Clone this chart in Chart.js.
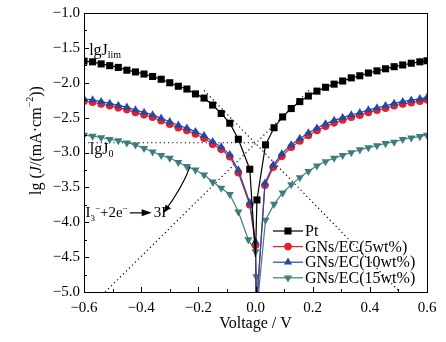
<!DOCTYPE html>
<html>
<head>
<meta charset="utf-8">
<script src="https://cdn.jsdelivr.net/npm/chart.js@4.4.0/dist/chart.umd.min.js"></script>
<style>
  html, body { margin: 0; padding: 0; background: #fff; }
</style>
</head>
<body>
<canvas id="tafel" width="446" height="342"></canvas>
<script>
// ===== data =====
const ptVolt = [-0.60, -0.57, -0.54, -0.51, -0.48, -0.45, -0.42, -0.39, -0.36, -0.33, -0.30, -0.27, -0.24, -0.21, -0.18, -0.15, -0.12, -0.09, -0.06,
  -0.02, 0.00, 0.005,
  0.035, 0.065, 0.095, 0.125, 0.155, 0.185, 0.215, 0.245, 0.275, 0.305, 0.335, 0.365, 0.395, 0.425, 0.455, 0.485, 0.515, 0.545, 0.575, 0.60];
const ptLg = [-1.69, -1.70, -1.73, -1.755, -1.78, -1.82, -1.845, -1.875, -1.91, -1.95, -2.00, -2.05, -2.09, -2.16, -2.22, -2.32, -2.44, -2.58, -2.81,
  -3.24, -4.50, -3.68,
  -2.89, -2.645, -2.49, -2.37, -2.27, -2.19, -2.12, -2.065, -2.02, -1.975, -1.93, -1.90, -1.86, -1.83, -1.80, -1.77, -1.745, -1.72, -1.70, -1.685];

const gnVolt = [-0.60, -0.57, -0.54, -0.51, -0.48, -0.45, -0.42, -0.39, -0.36, -0.33, -0.30, -0.27, -0.24, -0.21, -0.18, -0.15, -0.12, -0.09, -0.06,
  -0.02, 0.00, 0.002,
  0.033, 0.062, 0.092, 0.125, 0.155, 0.185, 0.215, 0.245, 0.275, 0.305, 0.335, 0.365, 0.395, 0.425, 0.455, 0.485, 0.515, 0.545, 0.575, 0.60];
const gn5Lg = [-2.265, -2.28, -2.305, -2.33, -2.36, -2.385, -2.425, -2.46, -2.495, -2.545, -2.595, -2.645, -2.685, -2.735, -2.795, -2.88, -2.955, -3.06, -3.29,
  -3.75, -4.33, -5.3,
  -3.47, -3.21, -3.055, -2.925, -2.835, -2.755, -2.685, -2.625, -2.575, -2.535, -2.495, -2.465, -2.425, -2.395, -2.365, -2.33, -2.305, -2.285, -2.265, -2.245];
const gn10Lg = [-2.23, -2.245, -2.27, -2.295, -2.325, -2.35, -2.39, -2.425, -2.46, -2.51, -2.56, -2.61, -2.65, -2.70, -2.76, -2.845, -2.92, -3.03, -3.25,
  -3.72, -4.28, -5.3,
  -3.44, -3.18, -3.02, -2.89, -2.80, -2.72, -2.65, -2.59, -2.54, -2.50, -2.46, -2.43, -2.39, -2.36, -2.33, -2.295, -2.27, -2.25, -2.23, -2.21];

const gn15Volt = [-0.60, -0.57, -0.54, -0.51, -0.48, -0.45, -0.42, -0.39, -0.36, -0.33, -0.30, -0.27, -0.24, -0.21, -0.18, -0.15, -0.12, -0.09, -0.06,
  -0.025, 0.00, 0.003, 0.004,
  0.035, 0.065, 0.095, 0.125, 0.155, 0.185, 0.215, 0.245, 0.275, 0.305, 0.335, 0.365, 0.395, 0.425, 0.455, 0.485, 0.515, 0.545, 0.575, 0.60];
const gn15Lg = [-2.75, -2.765, -2.785, -2.81, -2.83, -2.86, -2.89, -2.94, -2.99, -3.04, -3.08, -3.14, -3.20, -3.25, -3.32, -3.42, -3.51, -3.60, -3.85,
  -4.25, -4.42, -4.78, -5.3,
  -3.97, -3.74, -3.58, -3.46, -3.36, -3.27, -3.19, -3.13, -3.08, -3.04, -3.00, -2.96, -2.93, -2.90, -2.87, -2.85, -2.81, -2.79, -2.77, -2.75];

// tangent (extrapolation) lines
const anodicTanVolt = [-0.526, 0.195];
const anodicTanLg = [-5.0, -2.08];
const cathodicTanVolt = [-0.18, 0.505];
const cathodicTanLg = [-2.11, -5.0];
const j0Volt = [-0.6, 0.0];
const j0Lg = [-2.86, -2.86];

const seriesNames = ["Pt", "GNs/EC(5wt%)", "GNs/EC(10wt%)", "GNs/EC(15wt%)"];

const xTicks = [-0.6, -0.4, -0.2, 0.0, 0.2, 0.4, 0.6];
const xMinor = [-0.5, -0.3, -0.1, 0.1, 0.3, 0.5];
const yTicks = [-5.0, -4.5, -4.0, -3.5, -3.0, -2.5, -2.0, -1.5, -1.0];
const yMinor = [-4.75, -4.25, -3.75, -3.25, -2.75, -2.25, -1.75, -1.25];

const SERIF = "'Liberation Serif', 'Times New Roman', serif";
const fmt = (v) => (v < 0 ? "\u2212" : "") + Math.abs(v).toFixed(1);
const pts = (xs, ys) => xs.map((x, i) => ({ x, y: ys[i] }));

// hide markers on the points that only shape the dip
const radiusAbove = (limit, r) => (c) => (c.raw && c.raw.y < limit ? 0 : r);

const series = (label, xs, ys, color, style, r, rot, limit, order) => ({
  label,
  data: pts(xs, ys),
  showLine: true,
  borderColor: color,
  backgroundColor: color,
  pointBackgroundColor: color,
  pointBorderColor: color,
  pointBorderWidth: 0,
  borderWidth: 1.2,
  pointStyle: style,
  rotation: rot,
  pointRadius: radiusAbove(limit, r),
  legendRadius: r,
  tension: 0,
  order,
});

const dotted = (xs, ys) => ({
  label: "",
  data: pts(xs, ys),
  showLine: true,
  borderColor: "#000",
  borderWidth: 1.2,
  borderDash: [1.2, 3],
  pointRadius: 0,
  order: 5,
});

// rich text: parts = [text, kind]  kind: n | i | sub | sup
const partFont = (kind, size) => {
  const s = kind === "sub" || kind === "sup" ? Math.round(size * 0.62) : size;
  return (kind === "i" ? "italic " : "") + s + "px " + SERIF;
};
const richWidth = (ctx, parts, size) =>
  parts.reduce((w, [t, k]) => { ctx.font = partFont(k, size); return w + ctx.measureText(t).width; }, 0);
const drawRich = (ctx, parts, x, y, size) => {
  let cx = x;
  parts.forEach(([t, k]) => {
    ctx.font = partFont(k, size);
    const dy = k === "sup" ? -size * 0.42 : k === "sub" ? size * 0.22 : 0;
    ctx.fillText(t, cx, y + dy);
    cx += ctx.measureText(t).width;
  });
  return cx;
};

const framePlugin = {
  id: "frameAndTicks",
  afterDraw(chart) {
    const { ctx, chartArea: a, scales: { x, y } } = chart;
    ctx.save();
    ctx.strokeStyle = "#000";
    ctx.lineWidth = 1;
    ctx.strokeRect(a.left + 0.5, a.top + 0.5, a.right - a.left, a.bottom - a.top);
    ctx.beginPath();
    const tx = (v, len) => {
      const p = Math.round(x.getPixelForValue(v)) + 0.5;
      ctx.moveTo(p, a.bottom);
      ctx.lineTo(p, a.bottom - len);
    };
    const ty = (v, len) => {
      const p = Math.round(y.getPixelForValue(v)) + 0.5;
      ctx.moveTo(a.left, p);
      ctx.lineTo(a.left + len, p);
    };
    xTicks.forEach((v) => tx(v, 5));
    xMinor.forEach((v) => tx(v, 3));
    yTicks.forEach((v) => ty(v, 5));
    yMinor.forEach((v) => ty(v, 3));
    ctx.stroke();
    ctx.restore();
  },
};

const notesPlugin = {
  id: "notes",
  afterDraw(chart) {
    const { ctx, chartArea: a, scales: { x, y } } = chart;
    ctx.save();
    ctx.fillStyle = "#000";
    ctx.strokeStyle = "#000";
    ctx.textBaseline = "alphabetic";
    ctx.textAlign = "left";

    // lgJlim and lgJ0 labels
    drawRich(ctx, [["lgJ", "n"], ["lim", "sub"]], x.getPixelForValue(-0.582), y.getPixelForValue(-1.6), 16);
    drawRich(ctx, [["lgJ", "n"], ["0", "sub"]], x.getPixelForValue(-0.58), y.getPixelForValue(-3.02), 16);

    // reaction label
    const bx = x.getPixelForValue(-0.595);
    const by = y.getPixelForValue(-3.93);
    let cx = drawRich(ctx, [["I", "n"], ["3", "sub"], ["\u2212", "sup"], ["+2e", "n"], ["\u2212", "sup"]], bx, by, 15);
    const ay = by - 4.5;
    ctx.lineWidth = 1.2;
    ctx.beginPath();
    ctx.moveTo(cx + 2, ay);
    ctx.lineTo(cx + 16, ay);
    ctx.stroke();
    ctx.beginPath();
    ctx.moveTo(cx + 24, ay);
    ctx.lineTo(cx + 14, ay - 3.5);
    ctx.lineTo(cx + 14, ay + 3.5);
    ctx.closePath();
    ctx.fill();
    drawRich(ctx, [["3I", "n"], ["\u2212", "sup"]], cx + 26, by, 15);

    // curved pointer arrow
    const p0 = [x.getPixelForValue(-0.229), y.getPixelForValue(-3.20)];
    const pc = [x.getPixelForValue(-0.255), y.getPixelForValue(-3.50)];
    const p1 = [x.getPixelForValue(-0.322), y.getPixelForValue(-3.865)];
    ctx.lineWidth = 1.1;
    ctx.beginPath();
    ctx.moveTo(p0[0], p0[1]);
    ctx.quadraticCurveTo(pc[0], pc[1], p1[0], p1[1]);
    ctx.stroke();
    const ang = Math.atan2(p1[1] - pc[1], p1[0] - pc[0]);
    ctx.beginPath();
    ctx.moveTo(p1[0], p1[1]);
    ctx.lineTo(p1[0] - 8 * Math.cos(ang) + 3.2 * Math.sin(ang), p1[1] - 8 * Math.sin(ang) - 3.2 * Math.cos(ang));
    ctx.lineTo(p1[0] - 8 * Math.cos(ang) - 3.2 * Math.sin(ang), p1[1] - 8 * Math.sin(ang) + 3.2 * Math.cos(ang));
    ctx.closePath();
    ctx.fill();

    // y axis title
    const yTitle = [["lg (", "n"], ["J", "i"], ["/(mA\u00b7cm", "n"], ["\u22122", "sup"], ["))", "n"]];
    ctx.translate(37, (a.top + a.bottom) / 2 - 12);
    ctx.rotate(-Math.PI / 2);
    ctx.textBaseline = "middle";
    const w = richWidth(ctx, yTitle, 16);
    drawRich(ctx, yTitle, -w / 2, 0, 16);
    ctx.restore();
  },
};

const legendPlugin = {
  id: "innerLegend",
  afterDraw(chart) {
    const { ctx, chartArea: a } = chart;
    ctx.save();
    ctx.textBaseline = "middle";
    ctx.textAlign = "left";
    ctx.font = "16px " + SERIF;
    const x0 = a.right - 154;
    chart.data.datasets.slice(0, 4).forEach((ds, i) => {
      const yy = a.bottom - 61 + i * 15.6;
      ctx.strokeStyle = ds.borderColor;
      ctx.fillStyle = ds.borderColor;
      ctx.lineWidth = 1.2;
      ctx.beginPath();
      ctx.moveTo(x0, yy);
      ctx.lineTo(x0 + 30, yy);
      ctx.stroke();
      Chart.helpers.drawPoint(ctx, { pointStyle: ds.pointStyle, rotation: ds.rotation, radius: ds.legendRadius, borderWidth: 0 }, x0 + 15, yy);
      ctx.fillStyle = "#000";
      ctx.fillText(ds.label, x0 + 32, yy + 1);
    });
    ctx.restore();
  },
};

const datasets = [
  series(seriesNames[0], ptVolt, ptLg, "#000000", "rect", 5, 0, -4.4, 0),
  series(seriesNames[1], gnVolt, gn5Lg, "#e3202b", "circle", 3.8, 0, -5.0, 2),
  series(seriesNames[2], gnVolt, gn10Lg, "#2348a6", "triangle", 4.7, 0, -5.0, 1),
  series(seriesNames[3], gn15Volt, gn15Lg, "#3d7d7f", "triangle", 4.7, 180, -5.0, 3),
  dotted(anodicTanVolt, anodicTanLg),
  dotted(cathodicTanVolt, cathodicTanLg),
  dotted(j0Volt, j0Lg),
];

new Chart(document.getElementById("tafel").getContext("2d"), {
  type: "scatter",
  data: { datasets },
  options: {
    responsive: false,
    animation: false,
    events: [],
    layout: { padding: { top: 13, right: 19, left: 0, bottom: 0 } },
    plugins: {
      legend: { display: false },
      tooltip: { enabled: false },
    },
    scales: {
      x: {
        type: "linear",
        min: -0.6,
        max: 0.6,
        afterBuildTicks: (s) => { s.ticks = xTicks.map((v) => ({ value: v })); },
        afterFit: (s) => { s.height = 50; },
        grid: { display: false, drawTicks: false },
        border: { display: false },
        ticks: {
          color: "#000",
          font: { family: SERIF, size: 15 },
          padding: 7,
          maxRotation: 0,
          autoSkip: false,
          callback: (v) => fmt(v),
        },
        title: {
          display: true,
          text: "Voltage / V",
          color: "#000",
          font: { family: SERIF, size: 16 },
          padding: { top: 0, bottom: 9 },
        },
      },
      y: {
        type: "linear",
        min: -5,
        max: -1,
        afterBuildTicks: (s) => { s.ticks = yTicks.map((v) => ({ value: v })); },
        afterFit: (s) => { s.width = 84; },
        grid: { display: false, drawTicks: false },
        border: { display: false },
        ticks: {
          color: "#000",
          font: { family: SERIF, size: 15 },
          padding: 4,
          autoSkip: false,
          callback: (v) => fmt(v),
        },
      },
    },
  },
  plugins: [framePlugin, notesPlugin, legendPlugin],
});
</script>
</body>
</html>
